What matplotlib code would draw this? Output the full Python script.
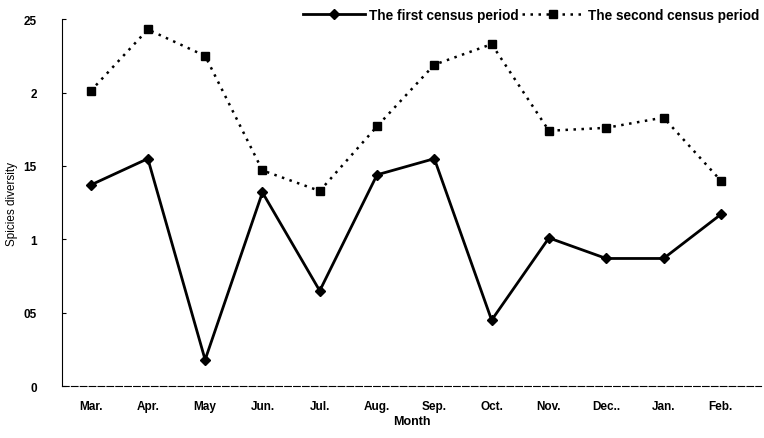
import matplotlib
matplotlib.use("Agg")
import matplotlib.pyplot as plt

# Monthly species diversity for the two census periods
months = ["Mar.", "Apr.", "May", "Jun.", "Jul.", "Aug.", "Sep.", "Oct.", "Nov.", "Dec..", "Jan.", "Feb."]
first_census = [1.37, 1.55, 0.18, 1.32, 0.65, 1.44, 1.55, 0.45, 1.01, 0.87, 0.87, 1.17]
second_census = [2.01, 2.43, 2.25, 1.47, 1.33, 1.77, 2.19, 2.33, 1.74, 1.76, 1.83, 1.40]
y_ticks = [0, 0.5, 1, 1.5, 2, 2.5]
y_tick_labels = ["0", "05", "1", "15", "2", "25"]

plt.rcParams['font.family'] = ['Liberation Sans', 'DejaVu Sans']
plt.rcParams['font.weight'] = 'bold'

fig = plt.figure(figsize=(7.64, 4.39), dpi=100)
ax = fig.add_axes([0.081, 0.118, 0.915, 0.836])

x = list(range(len(months)))
ax.plot(x, first_census, color='black', linestyle='-', linewidth=2,
        marker='D', markersize=5, label='The first census period')
ax.plot(x, second_census, color='black', linestyle=(0, (1, 2.2)), linewidth=1.8,
        marker='s', markersize=6, label='The second census period')

ax.set_xlim(-0.5, len(months) - 0.3)
ax.set_ylim(0, 2.5)
ax.set_xticks(x)
ax.set_xticklabels(months, fontsize=8.5)
ax.set_yticks(y_ticks)
ax.set_yticklabels(y_tick_labels, fontsize=8.5)
ax.tick_params(axis='x', length=0, pad=10)
ax.tick_params(axis='y', direction='in', length=3, width=0.8, pad=18)

ax.spines['top'].set_visible(False)
ax.spines['right'].set_visible(False)
ax.spines['left'].set_linestyle((0, (4, 1, 1, 1)))
ax.spines['left'].set_linewidth(0.8)
ax.spines['bottom'].set_linestyle((0, (6, 2)))
ax.spines['bottom'].set_linewidth(0.8)

ax.set_xlabel("Month", fontsize=9, fontweight='bold', labelpad=2)
ax.set_ylabel("Spicies diversity", fontsize=8.5, labelpad=4)

ax.legend(loc='upper right', bbox_to_anchor=(1.005, 1.045), ncol=2, frameon=False,
          fontsize=9.8, handlelength=4.5, columnspacing=0.3, handletextpad=0.3,
          borderaxespad=0)

fig.savefig("out.png", dpi=100)
